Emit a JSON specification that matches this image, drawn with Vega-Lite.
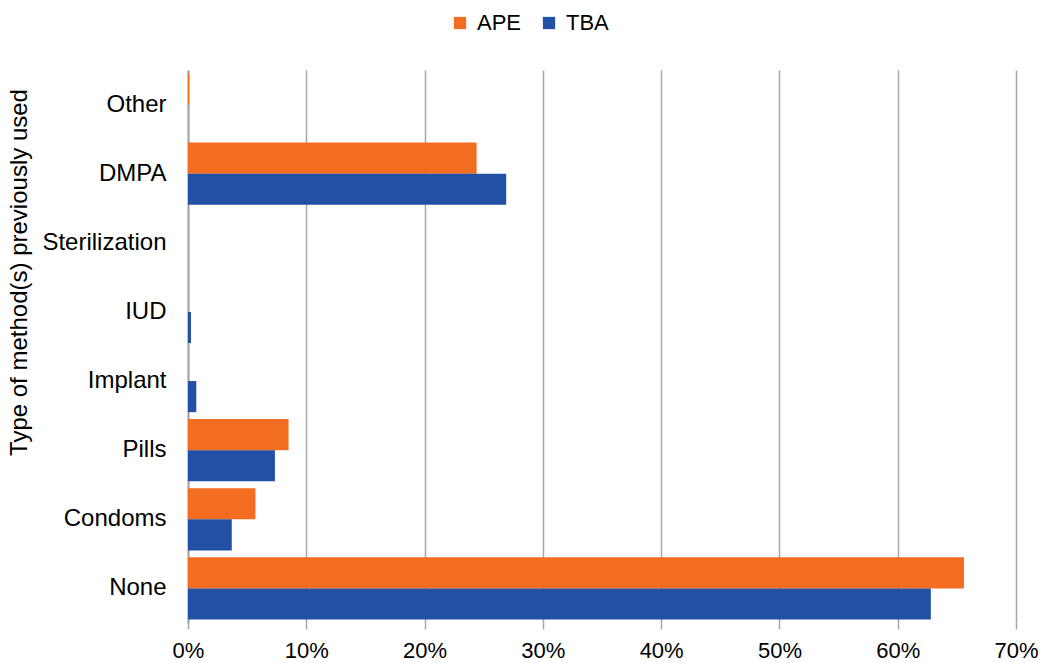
{
  "$schema": "https://vega.github.io/schema/vega-lite/v6.json",
  "autosize": {"type": "none"},
  "width": 828,
  "height": 553,
  "padding": {"left": 188, "top": 70, "right": 25, "bottom": 40},
  "background": "white",
  "data": {"values": [
    {"method": "Other", "group": "APE", "value": 0.1},
    {"method": "Other", "group": "TBA", "value": 0},
    {"method": "DMPA", "group": "APE", "value": 24.4},
    {"method": "DMPA", "group": "TBA", "value": 26.9},
    {"method": "Sterilization", "group": "APE", "value": 0},
    {"method": "Sterilization", "group": "TBA", "value": 0},
    {"method": "IUD", "group": "APE", "value": 0},
    {"method": "IUD", "group": "TBA", "value": 0.25},
    {"method": "Implant", "group": "APE", "value": 0},
    {"method": "Implant", "group": "TBA", "value": 0.7},
    {"method": "Pills", "group": "APE", "value": 8.5},
    {"method": "Pills", "group": "TBA", "value": 7.35},
    {"method": "Condoms", "group": "APE", "value": 5.7},
    {"method": "Condoms", "group": "TBA", "value": 3.7},
    {"method": "None", "group": "APE", "value": 65.6},
    {"method": "None", "group": "TBA", "value": 62.8}
  ]},
  "config": {
    "font": "Liberation Sans",
    "view": {"stroke": null}
  },
  "mark": {"type": "bar"},
  "encoding": {
    "y": {
      "field": "method", "type": "nominal",
      "sort": ["Other", "DMPA", "Sterilization", "IUD", "Implant", "Pills", "Condoms", "None"],
      "scale": {"paddingInner": 0.1, "paddingOuter": 0.05},
      "axis": {
        "title": "Type of method(s) previously used",
        "titleFont": "Liberation Sans", "titleFontSize": 24, "titleFontWeight": "normal", "titleColor": "#000",
        "titlePadding": 10, "titleY": 202,
        "labelFont": "Liberation Sans", "labelFontSize": 24, "labelColor": "#000", "labelPadding": 22,
        "ticks": false, "domain": true, "domainColor": "#a6a6a6", "domainWidth": 2
      }
    },
    "yOffset": {"field": "group", "type": "nominal", "sort": ["APE", "TBA"]},
    "x": {
      "field": "value", "type": "quantitative",
      "scale": {"domain": [0, 70], "nice": false},
      "axis": {
        "title": null,
        "values": [0, 10, 20, 30, 40, 50, 60, 70],
        "labelExpr": "datum.value + '%'",
        "labelFont": "Liberation Sans", "labelFontSize": 22, "labelColor": "#000", "labelPadding": 11,
        "grid": true, "gridColor": "#a6a6a6", "gridWidth": 1.5,
        "domain": false, "ticks": true, "tickColor": "#a6a6a6", "tickSize": 6, "tickWidth": 1.5,
        "labelFlush": false
      }
    },
    "color": {
      "field": "group", "type": "nominal",
      "scale": {"domain": ["APE", "TBA"], "range": ["#F26D21", "#2250A4"]},
      "legend": {
        "title": null, "orient": "none", "direction": "horizontal",
        "legendX": 261, "legendY": -58,
        "symbolType": "square", "symbolSize": 150, "symbolStrokeWidth": 0, "symbolOpacity": 1,
        "labelFont": "Liberation Sans", "labelFontSize": 22, "labelColor": "#000",
        "columnPadding": 16, "labelOffset": 6
      }
    }
  }
}
